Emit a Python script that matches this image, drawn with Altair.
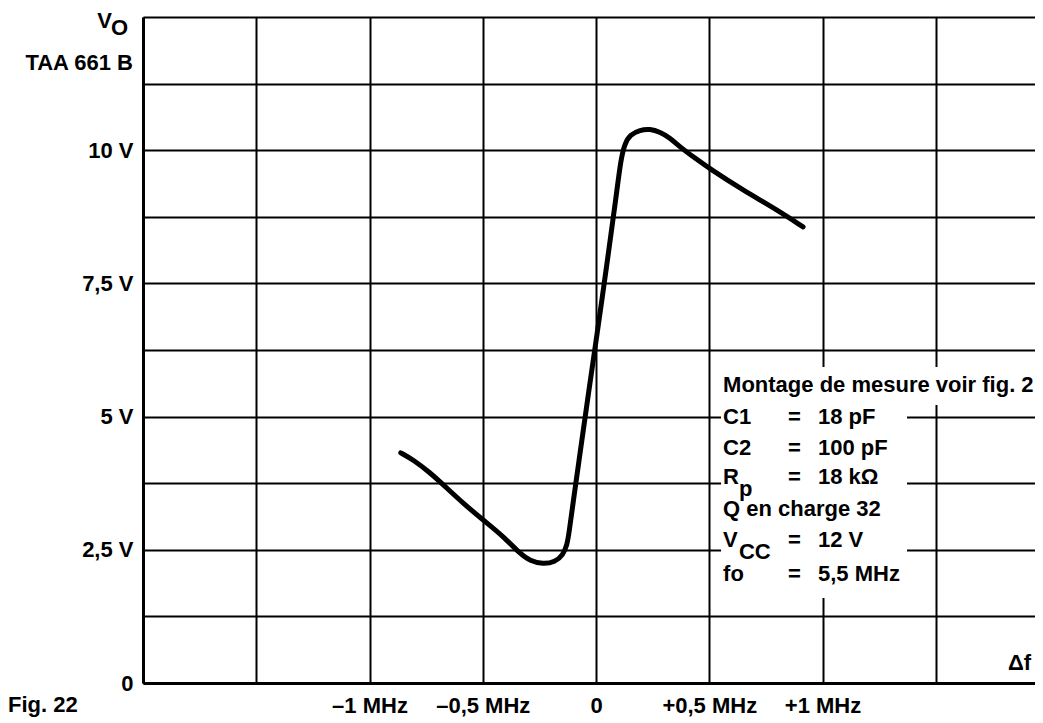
import altair as alt
import pandas as pd

# ---- curve (delta f in MHz, Vo in V) ----
freq_mhz = [-0.862, -0.807, -0.733, -0.674, -0.586, -0.490, -0.409, -0.336,
            -0.291, -0.234, -0.181, -0.146, -0.128, -0.119, -0.102, -0.071,
            -0.035, 0.004, 0.053, 0.088, 0.110, 0.128, 0.150, 0.194, 0.238,
            0.283, 0.327, 0.371, 0.437, 0.503, 0.649, 0.799, 0.914]
vo_volt = [4.32, 4.19, 3.95, 3.72, 3.37, 3.03, 2.75, 2.43,
           2.29, 2.23, 2.27, 2.40, 2.59, 2.82, 3.36, 4.30,
           5.39, 6.53, 8.01, 9.10, 9.85, 10.13, 10.29, 10.38, 10.40,
           10.34, 10.23, 10.06, 9.85, 9.65, 9.25, 8.88, 8.56]

# ---- axes ----
x_grid = [-2.0, -1.5, -1.0, -0.5, 0.0, 0.5, 1.0, 1.5]
x_label_values = [-1.0, -0.5, 0.0, 0.5, 1.0]
x_label_texts = ["\u20131 MHz", "\u20130,5 MHz", "0", "+0,5 MHz", "+1 MHz"]
y_grid = [0.0, 1.25, 2.5, 3.75, 5.0, 6.25, 7.5, 8.75, 10.0, 11.25, 12.5]
y_label_values = [0.0, 2.5, 5.0, 7.5, 10.0]
y_label_texts = ["0", "2,5 V", "5 V", "7,5 V", "10 V"]

# ---- texts ----
device_name = "TAA 661 B"
y_symbol = "V"
y_symbol_sub = "O"
fig_label = "Fig. 22"
x_symbol = "\u0394f"
box_title = "Montage de mesure voir fig. 2"
param_names = ["C1", "C2", "R", "V", "fo"]
param_values = ["18 pF", "100 pF", "18 k\u03a9", "12 V", "5,5 MHz"]
sub_texts = ["p", "CC"]
q_text = "Q en charge 32"

FONT = "Liberation Sans"
FS = 22
W = "bold"


def label_expr(values, texts):
    parts = [f"abs(datum.value - ({v})) < 0.001 ? '{t}'" for v, t in zip(values, texts)]
    return " : ".join(parts) + " : ''"


xscale = alt.Scale(domain=[-2.0, 1.938], nice=False, zero=False)
yscale = alt.Scale(domain=[0.0, 12.5], nice=False, zero=False)
xaxis = alt.Axis(values=x_grid, labelExpr=label_expr(x_label_values, x_label_texts),
                 title=None, grid=True, ticks=False, tickSize=0, labelPadding=12,
                 labelFlush=False, labelOverlap=False, labelBound=False)
yaxis = alt.Axis(values=y_grid, labelExpr=label_expr(y_label_values, y_label_texts),
                 title=None, grid=True, ticks=False, tickSize=0, labelPadding=10,
                 labelFlush=False, labelOverlap=False, labelBound=False)


def X(f):
    return alt.X(f, type="quantitative", scale=xscale, axis=xaxis)


def Y(f):
    return alt.Y(f, type="quantitative", scale=yscale, axis=yaxis)


curve_df = pd.DataFrame({"f": freq_mhz, "v": vo_volt})
curve = alt.Chart(curve_df).mark_line(
    interpolate="basis", color="black", strokeWidth=5,
    strokeCap="round", strokeJoin="round"
).encode(x=X("f"), y=Y("v"))

# white clear area behind the legend text (in data units)
box_df = pd.DataFrame({
    "x": [0.552, 0.552], "x2": [1.94, 1.373],
    "y": [5.218, 1.595], "y2": [5.931, 5.218],
})
box = alt.Chart(box_df).mark_rect(color="white", opacity=1).encode(
    x=X("x"), x2="x2", y=Y("y"), y2="y2")


def txt(df, align="left", dx=0, dy=0, size=FS):
    return alt.Chart(df).mark_text(
        align=align, baseline="middle", dx=dx, dy=dy, font=FONT,
        fontSize=size, fontWeight=W, color="black"
    ).encode(x=X("x"), y=Y("y"), text="t:N")


left_col = 0.561
eq_col = 0.848
val_col = 0.980
row_y = [4.99, 4.41, 3.86, 2.68, 2.05]

layers = [
    box,
    curve,
    txt(pd.DataFrame({"x": [-2.0], "y": [11.646], "t": [device_name]}), align="right", dx=-10),
    txt(pd.DataFrame({"x": [-2.0], "y": [12.43], "t": [y_symbol]}), align="right", dx=-31),
    txt(pd.DataFrame({"x": [-2.0], "y": [12.30], "t": [y_symbol_sub]}), align="right", dx=-15),
    txt(pd.DataFrame({"x": [-2.0], "y": [-0.42], "t": [fig_label]}), align="left", dx=-135),
    txt(pd.DataFrame({"x": [1.921], "y": [0.375], "t": [x_symbol]}), align="right"),
    txt(pd.DataFrame({"x": [left_col], "y": [5.593], "t": [box_title]})),
    txt(pd.DataFrame({"x": [left_col] * 5, "y": row_y, "t": param_names})),
    txt(pd.DataFrame({"x": [eq_col] * 5, "y": row_y, "t": ["="] * 5})),
    txt(pd.DataFrame({"x": [val_col] * 5, "y": row_y, "t": param_values})),
    txt(pd.DataFrame({"x": [0.631, 0.631], "y": [3.86, 2.68], "t": sub_texts}), dy=12),
    txt(pd.DataFrame({"x": [left_col], "y": [3.27], "t": [q_text]})),
]

chart = alt.layer(*layers).properties(
    width=892, height=666,
    padding={"left": 135, "top": 9, "right": 0, "bottom": 34},
    autosize=alt.AutoSizeParams(type="none"),
    background="white",
).configure_view(stroke=None).configure_axis(
    gridColor="black", gridWidth=2, gridOpacity=1,
    domainColor="black", domainWidth=3,
    labelFont=FONT, labelFontSize=FS, labelFontWeight=W, labelColor="black",
)

chart.save("out.html", embed_options={"renderer": "svg", "actions": False})
